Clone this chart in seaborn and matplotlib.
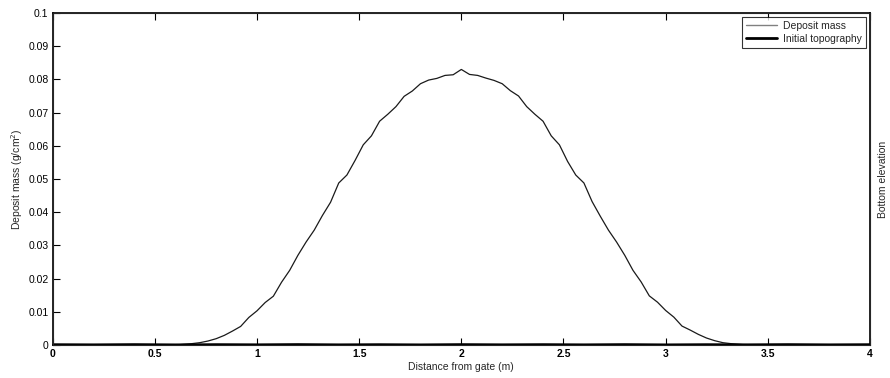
import numpy as np
import pandas as pd
import seaborn as sns
import matplotlib
matplotlib.use("Agg")
import matplotlib.pyplot as plt

# ---- data ----
distance = [round(0.04 * i, 2) for i in range(101)]
deposit_mass = (
    [0.0] * 16 +  # 0.00 .. 0.60
    [0.0002, 0.0004, 0.0007, 0.0012, 0.0019, 0.0029, 0.0042, 0.0056, 0.0083,
     0.0103, 0.0128, 0.0147, 0.0189, 0.0225, 0.0270, 0.0310, 0.0346, 0.0390,
     0.0430, 0.0488, 0.0512, 0.0556, 0.0603, 0.0630, 0.0674, 0.0695, 0.0718,
     0.0749, 0.0765, 0.0787, 0.0798, 0.0803, 0.0812, 0.0814, 0.0830,
     0.0815, 0.0812, 0.0804, 0.0797, 0.0787, 0.0766, 0.0750, 0.0718, 0.0695,
     0.0674, 0.0630, 0.0603, 0.0553, 0.0512, 0.0488, 0.0432, 0.0388, 0.0346,
     0.0310, 0.0270, 0.0225, 0.0190, 0.0148, 0.0129, 0.0104, 0.0084, 0.0057,
     0.0045, 0.0032, 0.0021, 0.0013, 0.0007, 0.0004, 0.0002]
)
deposit_mass += [0.0] * (101 - len(deposit_mass))

topo_x = [0.0, 0.2, 0.4, 0.6, 0.8, 1.0, 1.2, 1.4, 1.6, 1.8, 2.0, 2.2, 2.4,
          2.6, 2.8, 3.0, 3.2, 3.4, 3.6, 3.8, 4.0]
topo_z = [0.00010, 0.00005, 0.00012, 0.00004, 0.00011, 0.00006, 0.00013,
          0.00005, 0.00010, 0.00004, 0.00012, 0.00006, 0.00011, 0.00005,
          0.00012, 0.00004, 0.00010, 0.00006, 0.00012, 0.00005, 0.00010]

x_ticks = [0, 0.5, 1, 1.5, 2, 2.5, 3, 3.5, 4]
x_tick_labels = ["0", "0.5", "1", "1.5", "2", "2.5", "3", "3.5", "4"]
y_ticks = [0, 0.01, 0.02, 0.03, 0.04, 0.05, 0.06, 0.07, 0.08, 0.09, 0.1]
y_tick_labels = ["0", "0.01", "0.02", "0.03", "0.04", "0.05", "0.06",
                 "0.07", "0.08", "0.09", "0.1"]

df_dep = pd.DataFrame({"x": distance, "y": deposit_mass})
df_topo = pd.DataFrame({"x": topo_x, "y": topo_z})

sns.set_style("ticks")
plt.rcParams["font.family"] = ["Liberation Sans", "DejaVu Sans"]
plt.rcParams["xtick.direction"] = "in"
plt.rcParams["ytick.direction"] = "in"

fig = plt.figure(figsize=(8.9, 3.78), dpi=100)
ax = fig.add_axes([0.0592, 0.0873, 0.9183, 0.8783])

sns.lineplot(data=df_dep, x="x", y="y", ax=ax, color="#1a1a1a", lw=0.9,
             label="Deposit mass", estimator=None, sort=False)
sns.lineplot(data=df_topo, x="x", y="y", ax=ax, color="black", lw=2.0,
             label="Initial topography", estimator=None, sort=False)

ax.set_xlim(0, 4)
ax.set_ylim(0, 0.1)
ax.set_xticks(x_ticks)
ax.set_xticklabels(x_tick_labels, fontsize=7.5, fontweight="bold")
ax.set_yticks(y_ticks)
ax.set_yticklabels(y_tick_labels, fontsize=7.5)
ax.tick_params(axis="both", which="both", direction="in", length=5, width=0.8,
               top=True, right=True, pad=3, colors="black")
for s in ax.spines.values():
    s.set_linewidth(1.2)
    s.set_color("black")

ax.set_xlabel("Distance from gate (m)", fontsize=7.5, labelpad=2)
ax.set_ylabel("Deposit mass (g/cm$^2$)", fontsize=7.5, labelpad=2)

ax2 = ax.twinx()
ax2.set_ylim(0, 0.1)
ax2.set_yticks([])
ax2.set_ylabel("Bottom elevation", fontsize=7.5, labelpad=6)

leg = ax.legend(loc="upper right", fontsize=7.5, frameon=True, fancybox=False,
                borderaxespad=0.4, handlelength=3.0, handletextpad=0.6,
                borderpad=0.35, labelspacing=0.3)
leg.get_frame().set_edgecolor("black")
leg.get_frame().set_linewidth(0.8)
leg.get_lines()[0].set_color("#808080")
leg.get_lines()[0].set_linewidth(1.0)

fig.savefig("out.png", dpi=100)
